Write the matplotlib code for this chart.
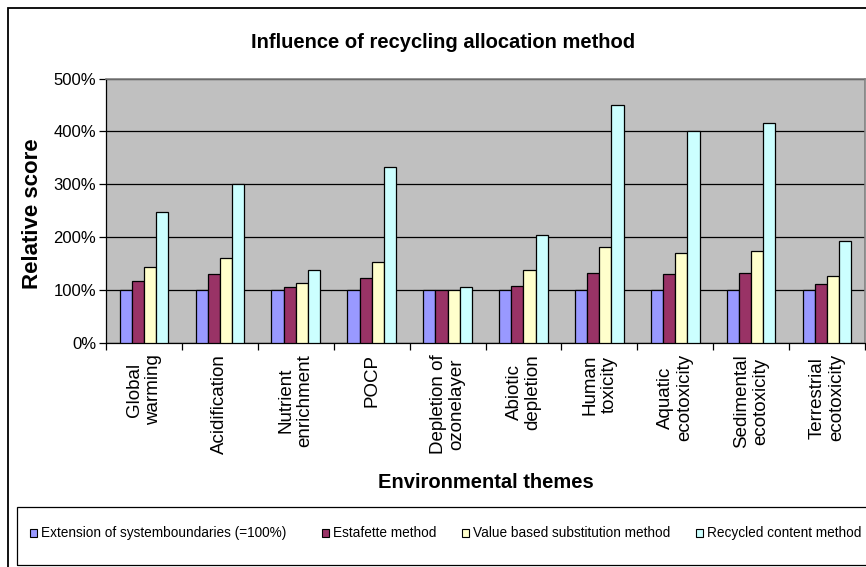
import matplotlib
matplotlib.use("Agg")
import matplotlib.pyplot as plt
from matplotlib.patches import Rectangle
from matplotlib.ticker import FuncFormatter, MultipleLocator
import numpy as np

plt.rcParams['font.family'] = ['Liberation Sans', 'DejaVu Sans']

themes = ["Global\nwarming", "Acidification", "Nutrient\nenrichment", "POCP",
          "Depletion of\nozonelayer", "Abiotic\ndepletion", "Human\ntoxicity",
          "Aquatic\necotoxicity", "Sedimental\necotoxicity", "Terrestrial\necotoxicity"]

series_names = ["Extension of systemboundaries (=100%)", "Estafette method",
                "Value based substitution method", "Recycled content method"]

extension = [1.00, 1.00, 1.00, 1.00, 1.00, 1.00, 1.00, 1.00, 1.00, 1.00]
estafette = [1.17, 1.30, 1.05, 1.22, 1.00, 1.08, 1.33, 1.30, 1.33, 1.11]
value_based = [1.44, 1.60, 1.13, 1.53, 1.00, 1.38, 1.82, 1.71, 1.74, 1.27]
recycled = [2.48, 3.00, 1.38, 3.33, 1.05, 2.04, 4.49, 4.00, 4.16, 1.93]

colors = ["#9999FF", "#993366", "#FFFFCC", "#CCFFFF"]

W, H = 866, 567
fig = plt.figure(figsize=(W / 100, H / 100), dpi=100)

# outer chart frame
fig.patches.append(Rectangle((8 / W, -0.05), 1.2, 1 - 8 / H + 0.05,
                             transform=fig.transFigure, fill=False,
                             edgecolor="black", linewidth=1.3))
# legend frame
fig.patches.append(Rectangle((17 / W, 1 - 565 / H), 1.2, (565 - 507) / H,
                             transform=fig.transFigure, fill=False,
                             edgecolor="black", linewidth=0.9))

ax = fig.add_axes([106 / W, 1 - 343 / H, 759 / W, (343 - 78.5) / H])
ax.set_facecolor("#C0C0C0")

x = np.arange(len(themes))
bw = 0.16
all_series = [extension, estafette, value_based, recycled]
for i, (vals, c) in enumerate(zip(all_series, colors)):
    ax.bar(x + (i - 1.5) * bw, vals, width=bw, color=c, edgecolor="black",
           linewidth=0.9, zorder=3)

ax.set_xlim(-0.5, len(themes) - 0.5)
ax.set_ylim(0, 5)
ax.yaxis.set_major_locator(MultipleLocator(1))
ax.yaxis.set_major_formatter(FuncFormatter(lambda v, p: f"{v * 100:.0f}%"))
ax.grid(axis="y", color="black", linewidth=0.9, zorder=1)
ax.set_axisbelow(True)

ax.set_xticks(np.arange(len(themes) + 1) - 0.5)
ax.set_xticklabels([])
ax.tick_params(axis="x", direction="out", length=5, width=0.9, color="black")
ax.tick_params(axis="y", direction="out", length=5, width=0.9, color="black",
               labelsize=12, pad=2)

for i, t in enumerate(themes):
    ax.text(i, -0.042, t, rotation=90, ha="center", va="top",
            multialignment="center", fontsize=13.5, linespacing=1.15,
            transform=ax.get_xaxis_transform())

for side in ("top", "right"):
    ax.spines[side].set_color("#808080")
    ax.spines[side].set_linewidth(1.2)
for side in ("left", "bottom"):
    ax.spines[side].set_color("black")
    ax.spines[side].set_linewidth(0.9)

fig.text(443 / W, 1 - 42 / H, "Influence of recycling allocation method",
         ha="center", va="center", fontsize=14.5, fontweight="bold")
fig.text(33 / W, 1 - 214 / H, "Relative score", rotation=90,
         ha="center", va="center", fontsize=16, fontweight="bold")
fig.text(486 / W, 1 - 483 / H, "Environmental themes",
         ha="center", va="center", fontsize=14.5, fontweight="bold")

# legend entries
marker_x = [30, 322, 462, 696]
ly = 533
for mx, name, c in zip(marker_x, series_names, colors):
    fig.patches.append(Rectangle((mx / W, 1 - (ly + 4) / H), 7 / W, 8 / H,
                                 transform=fig.transFigure, facecolor=c,
                                 edgecolor="black", linewidth=0.8))
    fig.text((mx + 11) / W, 1 - ly / H, name, ha="left", va="center",
             fontsize=9.8)

fig.savefig("out.png", dpi=100)
